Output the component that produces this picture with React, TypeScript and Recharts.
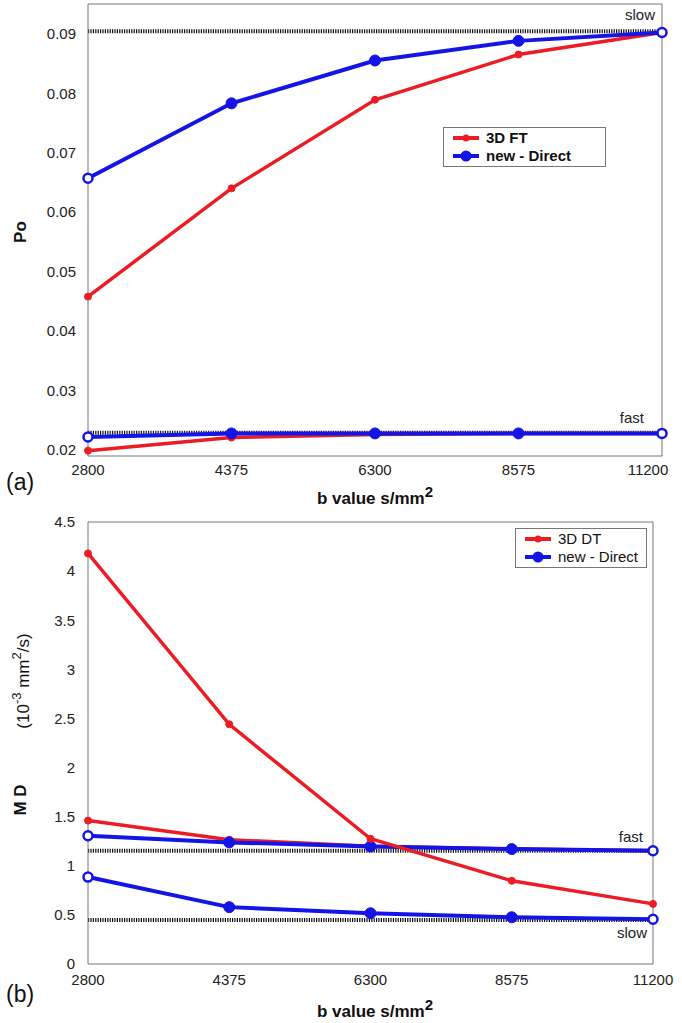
import React from 'react';
import { LineChart, Line, XAxis, YAxis, ReferenceLine, Legend } from 'recharts';

const FONT = "'Liberation Sans', Arial, sans-serif";
const RED = '#ec1c24';
const BLUE = '#1414e6';
const AXIS = '#777';

const bValues = ['2800', '4375', '6300', '8575', '11200'];

// panel (a) - Po
const poTicks = [0.02, 0.03, 0.04, 0.05, 0.06, 0.07, 0.08, 0.09];
const poFtSlow = [0.0458, 0.064, 0.0789, 0.0865, 0.0902];
const poFtFast = [0.0199, 0.0221, 0.0226, 0.0228, 0.0228];
const poDirectSlow = [0.0657, 0.0783, 0.0855, 0.0888, 0.0902];
const poDirectFast = [0.0222, 0.0228, 0.0228, 0.0228, 0.0228];
const poRefSlow = 0.0904;
const poRefFast = 0.0229;

// panel (b) - MD
const mdTicks = [0, 0.5, 1, 1.5, 2, 2.5, 3, 3.5, 4, 4.5];
const mdDtA = [4.18, 2.44, 1.275, 0.847, 0.612];
const mdDtB = [1.46, 1.265, 1.2, 1.17, 1.153];
const mdDirectFast = [1.306, 1.238, 1.197, 1.17, 1.153];
const mdDirectSlow = [0.885, 0.579, 0.517, 0.476, 0.456];
const mdRefFast = 1.153;
const mdRefSlow = 0.449;

const poData = bValues.map((b, i) => ({
  b,
  ftSlow: poFtSlow[i],
  ftFast: poFtFast[i],
  directSlow: poDirectSlow[i],
  directFast: poDirectFast[i],
}));

const mdData = bValues.map((b, i) => ({
  b,
  dtA: mdDtA[i],
  dtB: mdDtB[i],
  directFast: mdDirectFast[i],
  directSlow: mdDirectSlow[i],
}));

const redDot = (p: any) => (
  <circle key={`r-${p.index}`} cx={p.cx} cy={p.cy} r={3.5} fill={RED} stroke={RED} strokeWidth={1} />
);

const blueDot = (p: any) => {
  const ring = p.index === 0 || p.index === bValues.length - 1;
  return (
    <circle
      key={`b-${p.index}`}
      cx={p.cx}
      cy={p.cy}
      r={ring ? 4.5 : 5.5}
      fill={ring ? '#fff' : BLUE}
      stroke={BLUE}
      strokeWidth={ring ? 2.5 : 1}
    />
  );
};

const refLabel = (text: string, dx: number, dy: number) => (props: any) => {
  const vb = props.viewBox || {};
  return (
    <text
      x={vb.x + vb.width + dx}
      y={vb.y + dy}
      textAnchor="end"
      fontSize={15}
      fill="#222"
      fontFamily={FONT}
    >
      {text}
    </text>
  );
};

// x tick, the last label may be pulled in so it stays on the page
const xTick = (lastShift: number) => (p: any) => {
  const last = p.index === bValues.length - 1;
  return (
    <text x={p.x + (last ? lastShift : 0)} y={p.y} dy="0.71em" textAnchor="middle"
      fontSize={15} fill="#222" fontFamily={FONT}>
      {p.payload.value}
    </text>
  );
};

const LegendBox = ({ payload, bold, padRight }: any) => {
  const seen = new Set<string>();
  const items = (payload || []).filter((it: any) => {
    if (it.type === 'none' || seen.has(it.value)) return false;
    seen.add(it.value);
    return true;
  });
  return (
    <div
      style={{
        border: '1px solid #777',
        background: '#fff',
        padding: `1px ${padRight}px 1px 8px`,
        fontFamily: FONT,
        fontSize: 15,
        fontWeight: bold ? 700 : 400,
        color: '#111',
        lineHeight: '18px',
      }}
    >
      {items.map((item: any) => (
        <div key={item.value} style={{ display: 'flex', alignItems: 'center', whiteSpace: 'nowrap' }}>
          <svg width={28} height={18} style={{ marginRight: 6 }}>
            <line x1={1} y1={9} x2={27} y2={9} stroke={item.color} strokeWidth={4} />
            <circle cx={14} cy={9} r={item.color === BLUE ? 5.5 : 3.5} fill={item.color} />
          </svg>
          <span>{item.value}</span>
        </div>
      ))}
    </div>
  );
};

const tickStyle = { fill: '#222', fontSize: 15, fontFamily: FONT };
const dotted = { stroke: '#111', strokeWidth: 4, strokeDasharray: '1.2 1.2' };

const PoChart = () => (
  <LineChart width={682} height={510} data={poData} margin={{ top: 4, right: 20, left: 0, bottom: 0 }}>
    <XAxis dataKey="b" height={54} interval={0} tick={xTick(-14)} tickSize={0} tickMargin={8}
      tickLine={false} axisLine={{ stroke: AXIS }} />
    <XAxis xAxisId="xb" dataKey="b" mirror tick={false} axisLine={false} tickSize={4}
      tickLine={{ stroke: AXIS }} />
    <XAxis xAxisId="xt" dataKey="b" orientation="top" mirror tick={false} tickSize={4}
      tickLine={{ stroke: AXIS }} axisLine={{ stroke: AXIS }} />
    <YAxis width={88} domain={[0.019, 0.095]} ticks={poTicks} type="number" allowDataOverflow
      tick={tickStyle} tickSize={0} tickMargin={12} tickLine={false} axisLine={{ stroke: AXIS }}
      tickFormatter={(v: number) => v.toFixed(2)} />
    <YAxis yAxisId="yl" mirror domain={[0.019, 0.095]} ticks={poTicks} type="number" allowDataOverflow
      tick={false} tickSize={4} axisLine={false} tickLine={{ stroke: AXIS }} />
    <YAxis yAxisId="yr" orientation="right" mirror domain={[0.019, 0.095]} ticks={poTicks} type="number"
      allowDataOverflow tick={false} tickSize={4} tickLine={{ stroke: AXIS }} axisLine={{ stroke: AXIS }} />
    <ReferenceLine y={poRefSlow} {...dotted} label={refLabel('slow', -7, -11)} />
    <ReferenceLine y={poRefFast} {...dotted} label={refLabel('fast', -18, -10)} />
    <Line dataKey="ftFast" name="3D FT" legendType="none" stroke={RED} strokeWidth={3.5} dot={redDot} isAnimationActive={false} />
    <Line dataKey="directFast" name="new - Direct" legendType="none" stroke={BLUE} strokeWidth={4} dot={blueDot} isAnimationActive={false} />
    <Line dataKey="ftSlow" name="3D FT" stroke={RED} strokeWidth={3.5} dot={redDot} isAnimationActive={false} />
    <Line dataKey="directSlow" name="new - Direct" stroke={BLUE} strokeWidth={4} dot={blueDot} isAnimationActive={false} />
    <Legend layout="horizontal" verticalAlign="middle" align="center"
      wrapperStyle={{ left: 443, top: 127, width: 'auto', height: 'auto' }}
      content={(p: any) => <LegendBox payload={p.payload} bold padRight={34} />} />
  </LineChart>
);

const MdChart = () => (
  <LineChart width={682} height={513} data={mdData} margin={{ top: 12, right: 29, left: 0, bottom: 0 }}>
    <XAxis dataKey="b" height={59} interval={0} tick={xTick(0)} tickSize={0} tickMargin={10}
      tickLine={false} axisLine={{ stroke: AXIS }} />
    <XAxis xAxisId="xb" dataKey="b" mirror tick={false} axisLine={false} tickSize={4}
      tickLine={{ stroke: AXIS }} />
    <XAxis xAxisId="xt" dataKey="b" orientation="top" mirror tick={false} tickSize={4}
      tickLine={{ stroke: AXIS }} axisLine={{ stroke: AXIS }} />
    <YAxis width={88} domain={[0, 4.5]} ticks={mdTicks} type="number"
      tick={tickStyle} tickSize={0} tickMargin={13} tickLine={false} axisLine={{ stroke: AXIS }} />
    <YAxis yAxisId="yl" mirror domain={[0, 4.5]} ticks={mdTicks} type="number"
      tick={false} tickSize={4} axisLine={false} tickLine={{ stroke: AXIS }} />
    <YAxis yAxisId="yr" orientation="right" mirror domain={[0, 4.5]} ticks={mdTicks} type="number"
      tick={false} tickSize={4} tickLine={{ stroke: AXIS }} axisLine={{ stroke: AXIS }} />
    <ReferenceLine y={mdRefFast} {...dotted} label={refLabel('fast', -10, -9)} />
    <ReferenceLine y={mdRefSlow} {...dotted} label={refLabel('slow', -6, 18)} />
    <Line dataKey="dtB" name="3D DT" stroke={RED} strokeWidth={3.5} dot={redDot} isAnimationActive={false} />
    <Line dataKey="directFast" name="new - Direct" stroke={BLUE} strokeWidth={4} dot={blueDot} isAnimationActive={false} />
    <Line dataKey="directSlow" name="new - Direct" legendType="none" stroke={BLUE} strokeWidth={4} dot={blueDot} isAnimationActive={false} />
    <Line dataKey="dtA" name="3D DT" legendType="none" stroke={RED} strokeWidth={3.5} dot={redDot} isAnimationActive={false} />
    <Legend layout="horizontal" verticalAlign="middle" align="center"
      wrapperStyle={{ left: 515, top: 18, width: 'auto', height: 'auto' }}
      content={(p: any) => <LegendBox payload={p.payload} padRight={8} />} />
  </LineChart>
);

const Titles = () => (
  <svg width={682} height={1023} style={{ position: 'absolute', left: 0, top: 0, pointerEvents: 'none' }}
    fontFamily={FONT} fill="#111">
    <text x={22} y={232} fontSize={17} fontWeight={700} textAnchor="middle" dominantBaseline="middle"
      transform="rotate(-90 22 232)">Po</text>
    <text x={375} y={504} fontSize={17} fontWeight={700} textAnchor="middle">
      b value s/mm<tspan dy={-7} fontSize={15}>2</tspan>
    </text>
    <text x={6} y={490} fontSize={23}>(a)</text>

    <text x={25} y={681} fontSize={17} textAnchor="middle" dominantBaseline="middle"
      transform="rotate(-90 25 681)">
      (10<tspan dy={-7} fontSize={13}>-3</tspan><tspan dy={7}> mm</tspan><tspan dy={-7} fontSize={13}>2</tspan><tspan dy={7}>/s)</tspan>
    </text>
    <text x={22} y={800} fontSize={17} fontWeight={700} textAnchor="middle" dominantBaseline="middle"
      transform="rotate(-90 22 800)">M D</text>
    <text x={375} y={1017} fontSize={17} fontWeight={700} textAnchor="middle">
      b value s/mm<tspan dy={-7} fontSize={15}>2</tspan>
    </text>
    <text x={6} y={1002} fontSize={23}>(b)</text>
  </svg>
);

export default function App() {
  return (
    <div style={{ position: 'fixed', left: 0, top: 0, width: 682, height: 1023, background: '#fff', fontFamily: FONT }}>
      <div style={{ position: 'absolute', left: 0, top: 0 }}>
        <PoChart />
      </div>
      <div style={{ position: 'absolute', left: 0, top: 510 }}>
        <MdChart />
      </div>
      <Titles />
    </div>
  );
}
